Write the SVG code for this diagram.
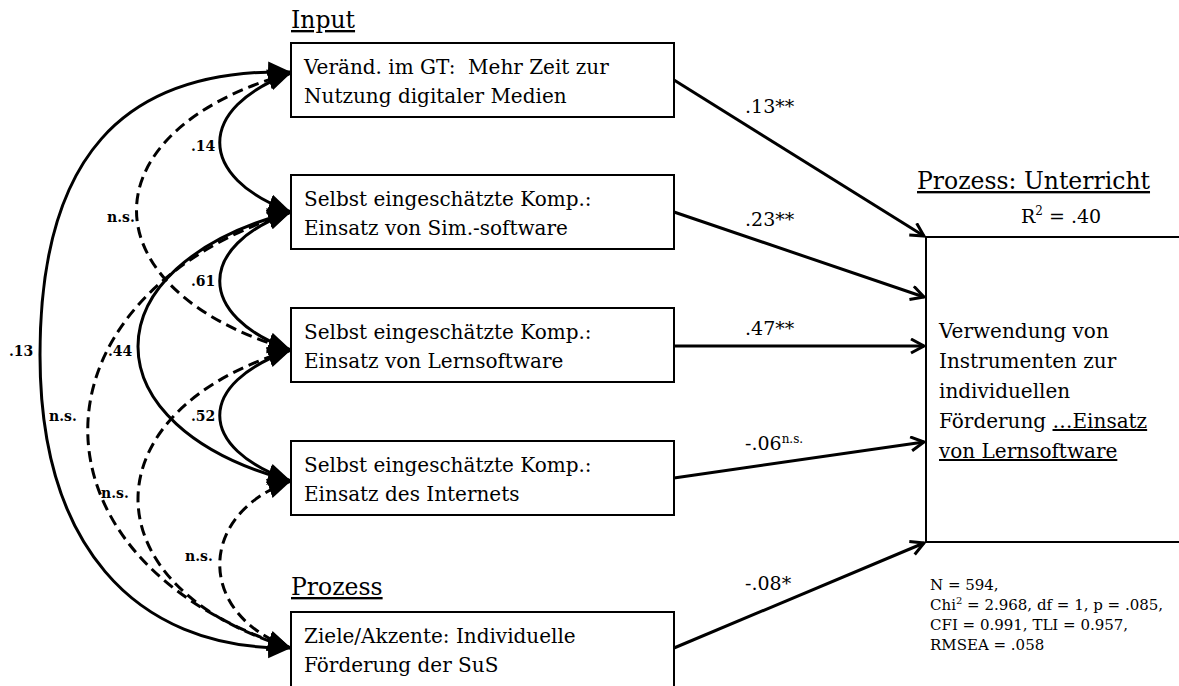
<svg xmlns="http://www.w3.org/2000/svg" width="1179" height="686" viewBox="0 0 1179 686">
  <style>
    .box { fill: #fff; stroke: #000; stroke-width: 2; }
    .txt { font-family: "DejaVu Serif", "Liberation Serif", serif; font-size: 20px; fill: #000; white-space: pre; }
    .head { font-family: "DejaVu Serif", "Liberation Serif", serif; font-size: 23.5px; fill: #000; text-decoration: underline; }
    .coef { font-family: "DejaVu Serif", "Liberation Serif", serif; font-size: 19px; fill: #000; }
    .cor { font-family: "DejaVu Serif", "Liberation Serif", serif; font-size: 14px; font-weight: bold; fill: #000; }
    .fit { font-family: "DejaVu Serif", "Liberation Serif", serif; font-size: 15px; fill: #000; }
    .path { fill: none; stroke: #000; stroke-width: 3; marker-end: url(#open); }
    .cov { fill: none; stroke: #000; stroke-width: 3; marker-start: url(#solid); marker-end: url(#solid); }
    .dash { stroke-dasharray: 11 6; }
  </style>
  <defs>
    <marker id="solid" markerUnits="userSpaceOnUse" markerWidth="26" markerHeight="22" refX="23" refY="10" orient="auto-start-reverse">
      <path d="M0,0 L23,10 L0,20 Z" fill="#000"/>
    </marker>
    <marker id="open" markerUnits="userSpaceOnUse" markerWidth="18" markerHeight="18" refX="14" refY="8" orient="auto">
      <path d="M1,1 L14,8 L1,15" fill="none" stroke="#000" stroke-width="3" stroke-linejoin="miter"/>
    </marker>
  </defs>

  <rect width="1179" height="686" fill="#fff"/>

  <!-- section headings -->
  <text class="head" x="291" y="28">Input</text>
  <text class="head" x="291" y="595">Prozess</text>
  <text class="head" x="917" y="189">Prozess: Unterricht</text>

  <!-- predictors -->
  <g id="node-zeit">
    <rect class="box" x="291" y="43" width="383" height="74"/>
    <text class="txt" x="304" y="74" xml:space="preserve">Veränd. im GT:  Mehr Zeit zur</text>
    <text class="txt" x="304" y="103">Nutzung digitaler Medien</text>
  </g>
  <g id="node-sim">
    <rect class="box" x="291" y="175" width="383" height="74"/>
    <text class="txt" x="304" y="206">Selbst eingeschätzte Komp.:</text>
    <text class="txt" x="304" y="235">Einsatz von Sim.-software</text>
  </g>
  <g id="node-lern">
    <rect class="box" x="291" y="308" width="383" height="74"/>
    <text class="txt" x="304" y="339">Selbst eingeschätzte Komp.:</text>
    <text class="txt" x="304" y="368">Einsatz von Lernsoftware</text>
  </g>
  <g id="node-internet">
    <rect class="box" x="291" y="441" width="383" height="74"/>
    <text class="txt" x="304" y="472">Selbst eingeschätzte Komp.:</text>
    <text class="txt" x="304" y="501">Einsatz des Internets</text>
  </g>
  <g id="node-ziele">
    <rect class="box" x="291" y="612" width="383" height="90"/>
    <text class="txt" x="304" y="643">Ziele/Akzente: Individuelle</text>
    <text class="txt" x="304" y="672">Förderung der SuS</text>
  </g>

  <!-- outcome -->
  <g id="node-outcome">
    <path d="M1181 237 H926 V542 H1181" fill="none" stroke="#000" stroke-width="2"/>
    <text class="coef" x="1021" y="223">R<tspan font-size="12" dy="-8">2</tspan><tspan dy="8"> = .40</tspan></text>
    <text class="txt" x="939" y="338">Verwendung von</text>
    <text class="txt" x="939" y="368">Instrumenten zur</text>
    <text class="txt" x="939" y="398">individuellen</text>
    <text class="txt" x="939" y="428">Förderung <tspan text-decoration="underline">…Einsatz</tspan></text>
    <text class="txt" x="939" y="458" text-decoration="underline">von Lernsoftware</text>
  </g>

  <!-- model fit -->
  <g id="fit">
    <text class="fit" x="930" y="590">N = 594,</text>
    <text class="fit" x="930" y="610">Chi<tspan font-size="10" dy="-6">2</tspan><tspan dy="6"> = 2.968, df = 1, p = .085,</tspan></text>
    <text class="fit" x="930" y="630">CFI = 0.991, TLI = 0.957,</text>
    <text class="fit" x="930" y="650">RMSEA = .058</text>
  </g>

  <g id="connectors">
    <!-- regression paths -->
    <path class="path" d="M674 80 L924 236"/>
    <path class="path" d="M674 212 L924 297"/>
    <path class="path" d="M674 346 L924 346"/>
    <path class="path" d="M674 478 L924 442"/>
    <path class="path" d="M674 648 L924 543"/>

    <!-- correlations -->
    <path class="cov" d="M291 73 C196 108, 196 177, 291 212"/>
    <path class="cov" d="M291 212 C196 246, 196 316, 291 350"/>
    <path class="cov" d="M291 350 C196 383, 196 448, 291 481"/>
    <path class="cov" d="M291 212 C87 266, 87 427, 291 481"/>
    <path class="cov" d="M291 72 C120 68, 40 160, 40 355 C40 540, 130 650, 291 648"/>
    <path class="cov dash" d="M291 73 C85 130, 85 290, 291 350"/>
    <path class="cov dash" d="M291 212 C20 299, 20 561, 291 648"/>
    <path class="cov dash" d="M291 350 C87 410, 87 588, 291 648"/>
    <path class="cov dash" d="M291 481 C196 514, 196 615, 291 648"/>
  </g>

  <!-- coefficients -->
  <g id="labels">
    <text class="coef" x="745" y="113">.13**</text>
    <text class="coef" x="745" y="226">.23**</text>
    <text class="coef" x="745" y="335">.47**</text>
    <text class="coef" x="745" y="450">-.06<tspan font-size="12" dy="-7">n.s.</tspan></text>
    <text class="coef" x="745" y="590">-.08*</text>

    <text class="cor" x="191" y="151">.14</text>
    <text class="cor" x="191" y="286">.61</text>
    <text class="cor" x="191" y="421">.52</text>
    <text class="cor" x="107" y="222">n.s.</text>
    <text class="cor" x="9" y="356">.13</text>
    <text class="cor" x="108" y="356">.44</text>
    <text class="cor" x="49" y="421">n.s.</text>
    <text class="cor" x="101" y="498">n.s.</text>
    <text class="cor" x="185" y="561">n.s.</text>
  </g>
</svg>
